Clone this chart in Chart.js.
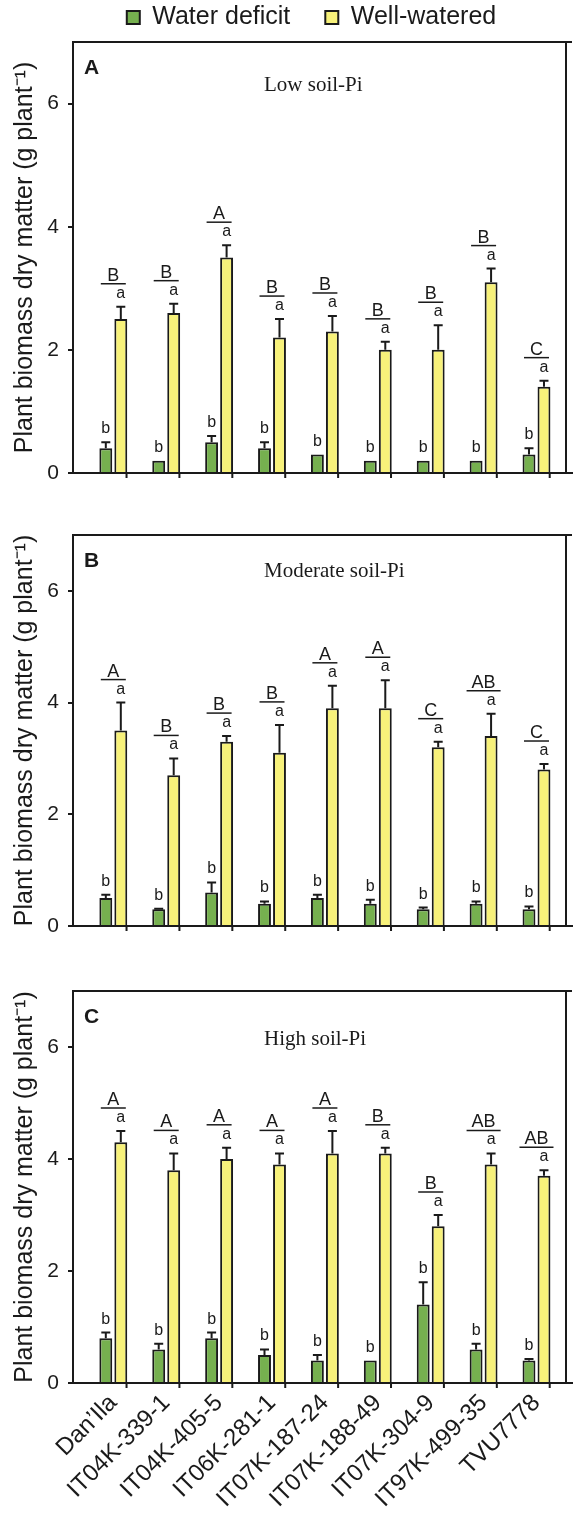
<!DOCTYPE html>
<html>
<head>
<meta charset="utf-8">
<script src="https://cdn.jsdelivr.net/npm/chart.js@4.4.1/dist/chart.umd.min.js"></script>
<style>
  html, body { margin: 0; padding: 0; background: #fff; }
  #fig { position: relative; width: 578px; height: 1525px; }
  .panel { position: absolute; left: 0; width: 578px; }
</style>
</head>
<body>
<div id="fig">
  <div class="panel" style="top:0;height:490px"><canvas id="panel-a" width="578" height="490"></canvas></div>
  <div class="panel" style="top:490px;height:450px"><canvas id="panel-b" width="578" height="450"></canvas></div>
  <div class="panel" style="top:940px;height:585px"><canvas id="panel-c" width="578" height="585"></canvas></div>
</div>
<script>
'use strict';

// Plant biomass dry matter of nine cowpea lines, three soil-Pi levels.

const cultivars = ['Dan’Ila', 'IT04K-339-1', 'IT04K-405-5', 'IT06K-281-1', 'IT07K-187-24',
  'IT07K-188-49', 'IT07K-304-9', 'IT97K-499-35', 'TVU7778'];
const yTicks = [0, 2, 4, 6];
const seriesNames = ['Water deficit', 'Well-watered'];

// A — low soil-Pi
const lowDeficit = [0.4, 0.2, 0.5, 0.4, 0.3, 0.2, 0.2, 0.2, 0.3];
const lowDeficitSE = [0.1, 0, 0.1, 0.1, 0, 0, 0, 0, 0.1];
const lowWatered = [2.5, 2.6, 3.5, 2.2, 2.3, 2.0, 2.0, 3.1, 1.4];
const lowWateredSE = [0.2, 0.15, 0.2, 0.3, 0.25, 0.13, 0.4, 0.22, 0.1];
const lowGroups = ['B', 'B', 'A', 'B', 'B', 'B', 'B', 'B', 'C'];

// B — moderate soil-Pi
const modDeficit = [0.5, 0.3, 0.6, 0.4, 0.5, 0.4, 0.3, 0.4, 0.3];
const modDeficitSE = [0.06, 0.01, 0.18, 0.04, 0.06, 0.07, 0.03, 0.04, 0.05];
const modWatered = [3.5, 2.7, 3.3, 3.1, 3.9, 3.9, 3.2, 3.4, 2.8];
const modWateredSE = [0.5, 0.3, 0.1, 0.5, 0.4, 0.5, 0.1, 0.4, 0.1];
const modGroups = ['A', 'B', 'B', 'B', 'A', 'A', 'C', 'AB', 'C'];

// C — high soil-Pi
const highDeficit = [0.8, 0.6, 0.8, 0.5, 0.4, 0.4, 1.4, 0.6, 0.4];
const highDeficitSE = [0.1, 0.1, 0.1, 0.1, 0.1, 0, 0.4, 0.1, 0.03];
const highWatered = [4.3, 3.8, 4.0, 3.9, 4.1, 4.1, 2.8, 3.9, 3.7];
const highWateredSE = [0.2, 0.3, 0.2, 0.2, 0.4, 0.1, 0.2, 0.2, 0.1];
const highGroups = ['A', 'A', 'A', 'A', 'A', 'B', 'B', 'AB', 'AB'];

// per-bar significance letters
const deficitLetters = ['b', 'b', 'b', 'b', 'b', 'b', 'b', 'b', 'b'];
const wateredLetters = ['a', 'a', 'a', 'a', 'a', 'a', 'a', 'a', 'a'];

const SANS = '"Liberation Sans", Arial, Helvetica, sans-serif';
const SERIF = '"Liberation Serif", "Times New Roman", serif';
const INK = '#1a1a1a';
const GREEN = '#76b04f';
const YELLOW = '#f7f17a';

// frame, x tick marks, error bars, letters, panel label and title
const annotate = {
  id: 'annotate',
  afterDatasetsDraw(chart, args, opts) {
    const { ctx, chartArea: area, scales: { x, y } } = chart;
    ctx.save();
    ctx.strokeStyle = INK;
    ctx.lineWidth = 2;
    ctx.beginPath();
    ctx.moveTo(area.left - 5, area.bottom); ctx.lineTo(area.right + 7, area.bottom);
    ctx.moveTo(area.left - 1, area.top); ctx.lineTo(area.right + 6, area.top);
    ctx.moveTo(area.right, area.top); ctx.lineTo(area.right, area.bottom);
    cultivars.forEach((_, i) => {
      const px = x.getPixelForValue(i + 0.25);
      ctx.moveTo(px, area.bottom); ctx.lineTo(px, area.bottom + 5);
    });
    ctx.stroke();

    const tops = [];
    chart.data.datasets.forEach((ds, di) => {
      const meta = chart.getDatasetMeta(di);
      tops[di] = [];
      meta.data.forEach((bar, i) => {
        const v = ds.data[i].y, se = ds.errors[i];
        const top = y.getPixelForValue(v + se);
        tops[di][i] = top;
        if (se > 0) {
          ctx.beginPath();
          ctx.lineWidth = 2;
          ctx.moveTo(bar.x, bar.y); ctx.lineTo(bar.x, top);
          ctx.moveTo(bar.x - 4.5, top); ctx.lineTo(bar.x + 4.5, top);
          ctx.stroke();
        }
        ctx.fillStyle = INK;
        ctx.font = '16px ' + SANS;
        ctx.textAlign = 'center';
        ctx.textBaseline = 'alphabetic';
        ctx.fillText(ds.letters[i], bar.x, top - 9);
      });
    });

    // Pi-level groups over each cultivar
    ctx.font = '18px ' + SANS;
    opts.groups.forEach((g, i) => {
      const cx = x.getPixelForValue(i);
      const ly = Math.min(tops[0][i], tops[1][i]) - 23;
      const half = Math.max(12.5, ctx.measureText(g).width / 2 + 5);
      ctx.beginPath();
      ctx.lineWidth = 1.5;
      ctx.moveTo(cx - half, ly); ctx.lineTo(cx + half, ly);
      ctx.stroke();
      ctx.fillText(g, cx, ly - 3);
    });

    ctx.textAlign = 'left';
    ctx.textBaseline = 'middle';
    ctx.font = 'bold 21px ' + SANS;
    ctx.fillText(opts.letter, area.left + 11, area.top + 26);
    ctx.font = '21px ' + SERIF;
    ctx.fillText(opts.title, area.left + 191, y.getPixelForValue(opts.titleAt));
    ctx.restore();
  }
};

// legend sits above panel A with wide item spacing but little top gap
const legendFit = {
  id: 'legendFit',
  afterInit(chart) {
    const legend = chart.legend;
    if (!legend) return;
    const fit = legend.fit;
    legend.fit = function () { fit.call(this); this.height = 42; };
  },
  afterLayout(chart) {
    const legend = chart.legend;
    if (!legend) return;
    legend.top = -30;
    legend.bottom = 40;
    legend.left = chart.chartArea.left - 16;
  }
};

function points(values) { return values.map((v, i) => ({ x: i, y: v })); }

function makePanel(id, p) {
  const showLabels = !!p.showLabels;
  return new Chart(document.getElementById(id), {
    type: 'bar',
    data: {
      datasets: [
        { label: seriesNames[0], data: points(p.deficit), errors: p.deficitSE, letters: deficitLetters,
          backgroundColor: GREEN, borderColor: INK, borderWidth: 2, borderSkipped: 'bottom' },
        { label: seriesNames[1], data: points(p.watered), errors: p.wateredSE, letters: wateredLetters,
          backgroundColor: YELLOW, borderColor: INK, borderWidth: 2, borderSkipped: 'bottom' },
      ],
    },
    options: {
      responsive: false,
      animation: false,
      events: [],
      categoryPercentage: 0.567,
      barPercentage: 0.86,
      layout: { padding: { top: p.padTop, right: 12, left: 0, bottom: 0 } },
      plugins: {
        legend: {
          display: !!p.legend,
          fullSize: false,
          labels: { boxWidth: 13, boxHeight: 13, padding: 35, color: INK, font: { family: SANS, size: 25 } },
        },
        tooltip: { enabled: false },
        annotate: { groups: p.groups, letter: p.letter, title: p.title, titleAt: p.titleAt },
      },
      scales: {
        x: {
          type: 'linear',
          offset: false,
          min: -0.762,
          max: 8.558,
          grid: { display: false, drawTicks: false },
          border: { display: false },
          afterBuildTicks: (s) => { s.ticks = cultivars.map((_, i) => ({ value: i })); },
          afterFit: (s) => { s.height = p.xHeight; s.paddingLeft = 0; s.paddingRight = 0; },
          ticks: {
            display: showLabels,
            autoSkip: false,
            minRotation: 45,
            maxRotation: 45,
            padding: 6,
            color: INK,
            font: { family: SANS, size: 24 },
            callback: (v) => cultivars[v],
          },
        },
        y: {
          min: 0,
          max: 7,
          afterBuildTicks: (s) => { s.ticks = yTicks.map(v => ({ value: v })); },
          afterFit: (s) => { s.width = 73; s.paddingTop = 0; s.paddingBottom = 0; },
          grid: { drawOnChartArea: false, drawTicks: true, tickLength: 5, color: INK, lineWidth: 2 },
          border: { display: true, color: INK, width: 2 },
          ticks: { padding: 9, color: INK, font: { family: SANS, size: 21 } },
          title: {
            display: true,
            text: 'Plant biomass dry matter (g plant⁻¹)',
            color: INK,
            padding: { top: 10, bottom: 0 },
            font: { family: SANS, size: 25 },
          },
        },
      },
    },
    plugins: [annotate, legendFit],
  });
}

makePanel('panel-a', {
  deficit: lowDeficit, deficitSE: lowDeficitSE, watered: lowWatered, wateredSE: lowWateredSE,
  groups: lowGroups, letter: 'A', title: 'Low soil-Pi', titleAt: 6.3,
  legend: true, padTop: 0, xHeight: 17,
});
makePanel('panel-b', {
  deficit: modDeficit, deficitSE: modDeficitSE, watered: modWatered, wateredSE: modWateredSE,
  groups: modGroups, letter: 'B', title: 'Moderate soil-Pi', titleAt: 6.35,
  padTop: 3, xHeight: 14,
});
makePanel('panel-c', {
  deficit: highDeficit, deficitSE: highDeficitSE, watered: highWatered, wateredSE: highWateredSE,
  groups: highGroups, letter: 'C', title: 'High soil-Pi', titleAt: 6.13,
  padTop: 9, xHeight: 142, showLabels: true,
});
</script>
</body>
</html>
